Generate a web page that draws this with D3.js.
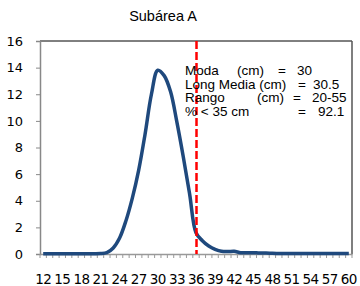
<!DOCTYPE html>
<html><head><meta charset="utf-8">
<script src="https://cdn.jsdelivr.net/npm/d3@7"></script>
<style>body{margin:0;background:#fff}svg{display:block}</style>
</head><body>
<svg id="c" width="360" height="286"></svg>
<script>
const categories = [12,13,14,15,16,17,18,19,20,21,22,23,24,25,26,27,28,29,30,31,32,33,34,35,36,37,38,39,40,41,42,43,44,45,46,47,48,49,50,51,52,53,54,55,56,57,58,59,60];
const values = [0.02,0.02,0.02,0.02,0.02,0.02,0.02,0.02,0.02,0.03,0.1,0.45,1.2,2.5,4.2,6.3,9.0,12.0,13.8,13.4,12.2,9.9,7.3,4.5,1.6,1.0,0.6,0.35,0.2,0.18,0.2,0.1,0.1,0.1,0.07,0.08,0.05,0.04,0.03,0.03,0.03,0.03,0.03,0.03,0.03,0.03,0.03,0.03,0.03];
const xTickLabels = [12,15,18,21,24,27,30,33,36,39,42,45,48,51,54,57,60];
const yTicks = [0,2,4,6,8,10,12,14,16];
const markerCategory = 36;
const title = "Subárea A";

const svg = d3.select("#c");
const L=40, R=352, T=41, B=254;
const x = d3.scaleBand().domain(categories).range([L,R]);
const y = d3.scaleLinear().domain([0,16]).range([B,T]);
const cx = c => x(c)+x.bandwidth()/2;

// title
svg.append("text").attr("x",163).attr("y",21).attr("text-anchor","middle")
  .style("font-family","Liberation Sans, Arial").style("font-size","14.5px").text(title);

// frame top/right
svg.append("line").attr("x1",L).attr("x2",R).attr("y1",T).attr("y2",T).attr("stroke","#000").attr("stroke-width",1);
svg.append("line").attr("x1",R).attr("x2",R).attr("y1",T).attr("y2",B).attr("stroke","#555").attr("stroke-width",1.5);

// y axis
const ya = svg.append("g").attr("transform",`translate(${L},0)`)
  .call(d3.axisLeft(y).tickValues(yTicks).tickSize(4).tickPadding(13).tickFormat(d3.format("d")));
ya.select(".domain").attr("stroke","#888").attr("stroke-width",1.5);
ya.selectAll(".tick line").attr("stroke","#888");
ya.selectAll("text").style("font-family","DejaVu Sans").style("font-size","13px").attr("fill","#000");

// x axis
const xa = svg.append("g").attr("transform",`translate(0,${B})`)
  .call(d3.axisBottom(x).tickSize(0).tickFormat(""));
xa.select(".domain").attr("stroke","#999").attr("stroke-width",1.5);
xa.selectAll(".tick").remove();
const bounds = categories.map(c=>x(c)).concat([R]);
svg.append("g").selectAll("line").data(bounds).join("line")
  .attr("x1",d=>d).attr("x2",d=>d).attr("y1",B).attr("y2",B+4).attr("stroke","#999");
svg.append("g").selectAll("text").data(xTickLabels).join("text")
  .attr("x",d=>cx(d)).attr("y",284).attr("text-anchor","middle")
  .style("font-family","DejaVu Sans").style("font-size","13.5px").style("letter-spacing","-0.6px").text(d=>d);

// curve
const line = d3.line().x((d,i)=>cx(categories[i])).y(d=>y(d)).curve(d3.curveCatmullRom.alpha(0.5));
svg.append("path").datum(values).attr("d",line).attr("fill","none")
  .attr("stroke","#1f497d").attr("stroke-width",3.5).attr("stroke-linejoin","round");

// marker line
svg.append("line").attr("x1",cx(markerCategory)+0.5).attr("x2",cx(markerCategory)+0.5).attr("y1",T).attr("y2",B)
  .attr("stroke","#ff0000").attr("stroke-width",2.5).attr("stroke-dasharray","8,3");

// stats text
const g = svg.append("g").style("font-family","Liberation Sans, Arial").style("font-size","13.5px").attr("fill","#000");
const rows = [
  [[185,"Moda"],[237,"(cm)"],[278,"="],[297,"30"]],
  [[185,"Long Media (cm)"],[298,"="],[313,"30.5"]],
  [[185,"Rango"],[257,"(cm)"],[293,"="],[312,"20-55"]],
  [[185,"% < 35 cm"],[298,"="],[318,"92.1"]]
];
const base = [75,88.5,102,115.5];
rows.forEach((r,i)=>r.forEach(([xx,t])=>g.append("text").attr("x",xx).attr("y",base[i]).text(t)));
</script>
</body></html>
